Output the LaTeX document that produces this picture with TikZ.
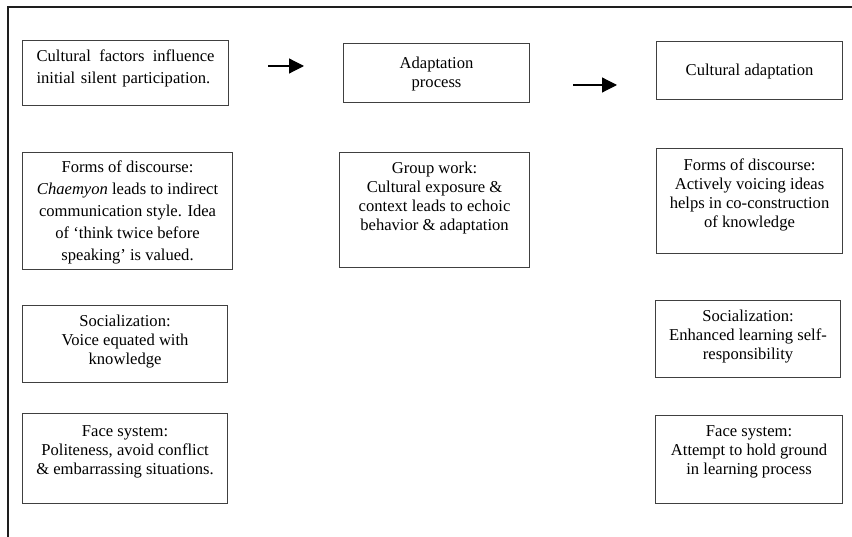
\documentclass[tikz,border=0pt]{standalone}
\usepackage{fontspec}
\setmainfont{Liberation Serif}
\usepackage{xcolor}
\definecolor{framecolor}{RGB}{30,30,30}
\definecolor{boxcolor}{RGB}{64,64,64}
\usetikzlibrary{arrows.meta,calc}

\begin{document}
\begin{tikzpicture}[x=1pt, y=-1pt,
  every node/.style={font=\fontsize{16.6}{19}\selectfont, inner sep=0pt},
  box/.style={draw=boxcolor, line width=1.1pt, anchor=north west},
  boxtext/.style={anchor=north, align=center},
  widetext/.style={font=\fontsize{16.6}{22}\selectfont},
  flow/.style={line width=1.2pt, -{Triangle[length=15pt,width=15pt]}}]
  \useasboundingbox (0,0) rectangle (852,537);
  \draw[framecolor, line width=2.2pt] (852,7) -- (8,7) -- (8,537);

  \node[box, minimum width=206pt, minimum height=65pt] (cf) at (22,40) {};
  \node[boxtext, widetext, align=left, text width=178pt] (cf-t) at ([yshift=-10pt]cf.north)
    {Cultural\hfill factors\hfill influence\\ initial silent participation.};

  \node[box, minimum width=186pt, minimum height=59pt] (ap) at (343,43) {};
  \node[boxtext] (ap-t) at ([yshift=-14pt]ap.north) {Adaptation\\ process};

  \node[box, minimum width=186pt, minimum height=58pt] (ca) at (656,41) {};
  \node[boxtext] (ca-t) at ([yshift=-23pt]ca.north) {Cultural adaptation};

  \coordinate (a1s) at (268,66);
  \coordinate (a1e) at (304,66);
  \draw[flow] (a1s) -- (a1e);
  \coordinate (a2s) at (573,85);
  \coordinate (a2e) at (617,85);
  \draw[flow] (a2s) -- (a2e);

  \node[box, minimum width=210pt, minimum height=117pt] (fdl) at (22,152) {};
  \node[boxtext, widetext] (fdl-t) at ([yshift=-9pt]fdl.north)
    {Forms of discourse:\\ \textit{Chaemyon} leads to indirect\\ communication style. Idea\\ of `think twice before\\ speaking' is valued.};

  \node[box, minimum width=190pt, minimum height=115pt] (gw) at (339,152) {};
  \node[boxtext] (gw-t) at ([yshift=-10pt]gw.north)
    {Group work:\\ Cultural exposure \&\\ context leads to echoic\\ behavior \& adaptation};

  \node[box, minimum width=186pt, minimum height=105pt] (fdr) at (656,148) {};
  \node[boxtext] (fdr-t) at ([yshift=-11pt]fdr.north)
    {Forms of discourse:\\ Actively voicing ideas\\ helps in co-construction\\ of knowledge};

  \node[box, minimum width=205pt, minimum height=77pt] (sol) at (22,305) {};
  \node[boxtext] (sol-t) at ([yshift=-10pt]sol.north)
    {Socialization:\\ Voice equated with\\ knowledge};

  \node[box, minimum width=185pt, minimum height=77pt] (sor) at (655,300) {};
  \node[boxtext] (sor-t) at ([yshift=-10pt]sor.north)
    {Socialization:\\ Enhanced learning self-\\ responsibility};

  \node[box, minimum width=205pt, minimum height=90pt] (fsl) at (22,413) {};
  \node[boxtext] (fsl-t) at ([yshift=-12pt]fsl.north)
    {Face system:\\ Politeness, avoid conflict\\ \& embarrassing situations.};

  \node[box, minimum width=187pt, minimum height=88pt] (fsr) at (655,415) {};
  \node[boxtext] (fsr-t) at ([yshift=-10pt]fsr.north)
    {Face system:\\ Attempt to hold ground\\ in learning process};
\end{tikzpicture}
\end{document}
